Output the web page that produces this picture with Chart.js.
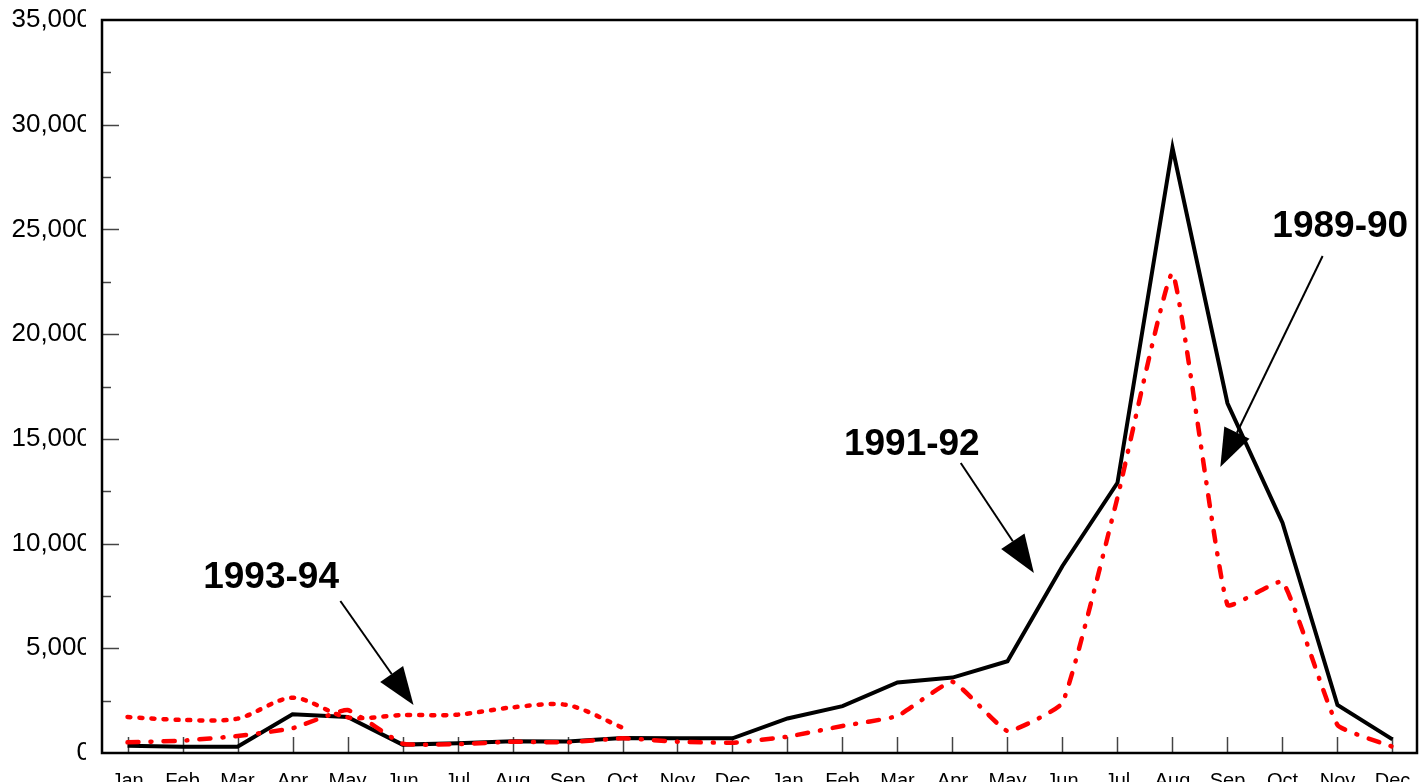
<!DOCTYPE html>
<html lang="en">
<head>
    <meta charset="UTF-8">
    <script src="https://cdn.jsdelivr.net/npm/chart.js"></script>
    <title>Monthly counts</title>
    <style>
        html, body { margin: 0; padding: 0; overflow: hidden; background: #fff; }
        #wrap { width: 1424px; height: 800px; }
    </style>
</head>
<body>
    <div id="wrap">
        <canvas id="grafico" width="1424" height="800"></canvas>
    </div>
<script>
    // months on the x axis (two years)
    var meses = ['Jan', 'Feb', 'Mar', 'Apr', 'May', 'Jun', 'Jul', 'Aug', 'Sep', 'Oct', 'Nov', 'Dec',
                 'Jan', 'Feb', 'Mar', 'Apr', 'May', 'Jun', 'Jul', 'Aug', 'Sep', 'Oct', 'Nov', 'Dec'];

    var serie9192 = [350, 300, 300, 1850, 1720, 400, 460, 560, 550, 720, 700, 700,
                     1650, 2240, 3370, 3600, 4380, 8930, 12900, 28900, 16700, 11000, 2290, 650];

    var serie8990 = [510, 590, 810, 1180, 2050, 450, 420, 540, 510, 700, 540, 490,
                     780, 1290, 1770, 3400, 1050, 2400, 12200, 22900, 7070, 8170, 1340, 300];

    var serie9394 = [1720, 1580, 1640, 2640, 1700, 1810, 1830, 2180, 2290, 1210];

    var yMax = 35000;
    var yPasso = 5000;

    // labels with arrows: text centre / arrow start / arrow tip, in data units (month index, value)
    var rotulos = [
        { texto: '1993-94', x: 2.61, y: 7880, de: [3.87, 7260], ate: [5.20, 2290] },
        { texto: '1991-92', x: 14.26, y: 14230, de: [15.15, 13850], ate: [16.48, 8600] },
        { texto: '1989-90', x: 22.05, y: 24640, de: [21.73, 23730], ate: [19.87, 13660] }
    ];

    function pontos(valores) {
        var out = [];
        for (let i = 0; i < valores.length; i++) {
            out.push({ x: i, y: valores[i] });
        }
        return out;
    }

    var moldura = {
        id: 'moldura',
        beforeDatasetsDraw: function (chart) {
            var ctx = chart.ctx;
            var a = chart.chartArea;
            var sx = chart.scales.x;
            var sy = chart.scales.y;
            ctx.save();
            // the y labels are cut off just before the axis, as in the original
            ctx.fillStyle = '#fff';
            ctx.fillRect(86, 0, a.left - 87, chart.height);
            // tick marks pointing inside
            ctx.lineWidth = 1.5;
            ctx.strokeStyle = '#444';
            for (let i = 0; i < meses.length; i++) {
                var px = Math.round(sx.getPixelForValue(i)) + 0.5;
                ctx.beginPath();
                ctx.moveTo(px, a.bottom);
                ctx.lineTo(px, a.bottom - 16);
                ctx.stroke();
            }
            for (let v = yPasso / 2; v < yMax; v += yPasso / 2) {
                var py = Math.round(sy.getPixelForValue(v)) + 0.5;
                var len = (v % yPasso === 0) ? 17 : 9;
                ctx.beginPath();
                ctx.moveTo(a.left, py);
                ctx.lineTo(a.left + len, py);
                ctx.stroke();
            }
            // box
            ctx.lineWidth = 2.5;
            ctx.strokeStyle = '#000';
            ctx.strokeRect(a.left, a.top, a.right - a.left, a.bottom - a.top);
            ctx.restore();
        },
        afterDatasetsDraw: function (chart) {
            var ctx = chart.ctx;
            var sx = chart.scales.x;
            var sy = chart.scales.y;
            ctx.save();
            ctx.fillStyle = '#000';
            ctx.strokeStyle = '#000';
            ctx.font = 'bold 37px "Liberation Sans", Arial, sans-serif';
            ctx.textAlign = 'center';
            ctx.textBaseline = 'alphabetic';
            rotulos.forEach(function (r) {
                ctx.fillText(r.texto, sx.getPixelForValue(r.x), sy.getPixelForValue(r.y));
                var x1 = sx.getPixelForValue(r.de[0]), y1 = sy.getPixelForValue(r.de[1]);
                var x2 = sx.getPixelForValue(r.ate[0]), y2 = sy.getPixelForValue(r.ate[1]);
                var ang = Math.atan2(y2 - y1, x2 - x1);
                var cab = 38, meia = 14;
                var bx = x2 - cab * Math.cos(ang), by = y2 - cab * Math.sin(ang);
                ctx.lineWidth = 2;
                ctx.beginPath();
                ctx.moveTo(x1, y1);
                ctx.lineTo(bx, by);
                ctx.stroke();
                ctx.beginPath();
                ctx.moveTo(x2, y2);
                ctx.lineTo(bx + meia * Math.sin(ang), by - meia * Math.cos(ang));
                ctx.lineTo(bx - meia * Math.sin(ang), by + meia * Math.cos(ang));
                ctx.closePath();
                ctx.fill();
            });
            ctx.restore();
        }
    };

    var dados = {
        datasets: [
            {
                label: '1993-94',
                data: pontos(serie9394),
                borderColor: '#ff0000',
                borderWidth: 4.5,
                borderDash: [3, 9],
                borderCapStyle: 'round',
                pointRadius: 0,
                tension: 0.3,
                fill: false
            },
            {
                label: '1989-90',
                data: pontos(serie8990),
                borderColor: '#ff0000',
                borderWidth: 4.5,
                borderDash: [11, 12, 1, 12],
                borderCapStyle: 'round',
                pointRadius: 0,
                tension: 0.12,
                fill: false
            },
            {
                label: '1991-92',
                data: pontos(serie9192),
                borderColor: '#000000',
                borderWidth: 4,
                pointRadius: 0,
                tension: 0,
                fill: false
            }
        ]
    };

    const config = {
        type: 'line',
        data: dados,
        plugins: [moldura],
        options: {
            responsive: false,
            animation: false,
            devicePixelRatio: 1,
            layout: { padding: { top: 20, right: 7, left: 0, bottom: 0 } },
            plugins: {
                legend: { display: false },
                tooltip: { enabled: false }
            },
            scales: {
                x: {
                    type: 'linear',
                    min: -0.464,
                    max: 23.446,
                    grid: { display: false },
                    border: { display: false },
                    afterFit: function (s) { s.height = 47; },
                    ticks: {
                        stepSize: 1,
                        includeBounds: false,
                        autoSkip: false,
                        maxRotation: 0,
                        padding: 8,
                        color: '#000',
                        font: { family: '"Liberation Sans", Arial, sans-serif', size: 20 },
                        callback: function (v) {
                            return Number.isInteger(v) && meses[v] !== undefined ? meses[v] : '';
                        }
                    }
                },
                y: {
                    min: 0,
                    max: yMax,
                    grid: { display: false, drawTicks: false },
                    border: { display: false },
                    afterFit: function (s) {
                        s.width = 102;
                        s.paddingTop = 0;
                        s.paddingBottom = 0;
                    },
                    ticks: {
                        stepSize: yPasso,
                        padding: 11,
                        color: '#000',
                        font: { family: '"Liberation Sans", Arial, sans-serif', size: 26 },
                        callback: function (v) { return v.toLocaleString('en-US'); }
                    }
                }
            }
        }
    };

    let ctx = document.getElementById('grafico').getContext('2d');
    let myChart = new Chart(ctx, config);
</script>
</body>
</html>
